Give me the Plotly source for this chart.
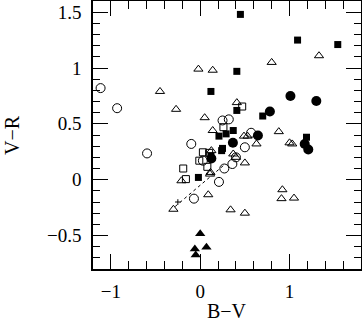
import plotly.graph_objects as go

# B-V, V-R colour values per object class
open_circ_bv = [-1.115, -0.93, -0.595, -0.10, -0.07, 0.21, 0.03, 0.27, 0.36, 0.50, 0.57, 0.25, 0.32, 0.40]
open_circ_vr = [0.82, 0.64, 0.235, 0.32, -0.17, -0.02, 0.17, 0.10, 0.14, 0.29, 0.42, 0.53, 0.54, 0.20]

fill_circ_bv = [1.01, 1.30, 0.78, 0.646, 1.17, 1.21, 0.366, 0.125]
fill_circ_vr = [0.75, 0.705, 0.61, 0.395, 0.32, 0.27, 0.33, 0.19]

fill_sq_bv = [0.45, 1.09, 1.54, 0.41, 0.12, 0.41, 0.70, 1.19, 0.37, 0.21, 0.29, 0.25, 0.24, -0.02, 0.12]
fill_sq_vr = [1.48, 1.25, 1.21, 0.97, 0.79, 0.62, 0.57, 0.38, 0.44, 0.39, 0.41, 0.28, 0.26, 0.02, 0.21]

open_sq_bv = [0.47, 0.03, -0.01, -0.19, -0.16, 0.08, 0.10, 0.26]
open_sq_vr = [0.655, 0.245, 0.17, 0.10, 0.005, 0.115, 0.24, 0.47]

open_tri_bv = [-0.45, -0.27, -0.02, 0.14, 0.80, 1.33, 0.41, 0.05, 0.14, 0.88, 0.49, 0.53, 0.63, 1.00,
               1.03, 0.37, 0.40, 0.50, 0.115, 0.125, -0.21, 0.09, -0.30, 0.34, 0.50, 0.92, 0.91, 1.05, 0.11]
open_tri_vr = [0.79, 0.63, 0.99, 0.98, 1.05, 1.11, 0.69, 0.555, 0.44, 0.43, 0.39, 0.39, 0.32, 0.33,
               0.32, 0.23, 0.20, 0.15, 0.065, 0.26, -0.01, -0.135, -0.265, -0.27, -0.30, -0.09, -0.17, -0.165, 0.05]

fill_tri_bv = [0.0, -0.06, -0.05, 0.07]
fill_tri_vr = [-0.485, -0.62, -0.675, -0.605]

# reddening vector
vec_bv = [-0.28, 0.28]
vec_vr = [-0.24, 0.14]
plus_bv = [-0.25]
plus_vr = [-0.20]

fig = go.Figure()

def add(x, y, sym, size, filled):
    fig.add_trace(go.Scatter(
        x=x, y=y, mode='markers',
        marker=dict(symbol=sym, size=size, color='black' if filled else 'rgba(0,0,0,0)',
                    line=dict(color='black', width=0 if filled else 1))))

fig.add_trace(go.Scatter(x=vec_bv, y=vec_vr, mode='lines',
                         line=dict(color='black', width=1, dash='dot')))
fig.add_trace(go.Scatter(x=plus_bv, y=plus_vr, mode='markers',
                         marker=dict(symbol='cross-thin', size=4, line=dict(color='black', width=1))))

add(open_tri_bv, open_tri_vr, 'triangle-up', 8, False)
add(fill_tri_bv, fill_tri_vr, 'triangle-up', 9, True)
add(open_sq_bv, open_sq_vr, 'square', 7, False)
add(open_circ_bv, open_circ_vr, 'circle', 9, False)
add(fill_sq_bv, fill_sq_vr, 'square', 7, True)
add(fill_circ_bv, fill_circ_vr, 'circle', 10, True)

serif = 'Liberation Serif'
axis_common = dict(
    showline=True, linecolor='black', linewidth=1.5, mirror='allticks',
    ticks='inside', ticklen=15, tickwidth=1, tickcolor='black',
    showgrid=False, zeroline=False, automargin=False,
    tickfont=dict(family=serif, size=19, color='black'),
)

fig.update_xaxes(range=[-1.2, 1.8], tick0=-1, dtick=1,
                 minor=dict(ticks='inside', ticklen=8, dtick=0.2, tick0=-1, tickcolor='black', showgrid=False),
                 ticklabelstandoff=4, **axis_common)
fig.update_yaxes(range=[-0.8, 1.6], tick0=0, dtick=0.5,
                 minor=dict(ticks='inside', ticklen=7, dtick=0.1, tick0=0, tickcolor='black', showgrid=False),
                 ticklabelstandoff=6, **axis_common)

# axis titles placed in pixels (plot box is 93..361 x 1..269)
fig.add_annotation(text='B\u2212V', xref='paper', x=0.5, yref='paper', y=-(311 - 269) / 268,
                   yanchor='middle', showarrow=False,
                   font=dict(family=serif, size=20, color='black'))
fig.add_annotation(text='V\u2212R', xref='paper', x=-(93 - 12) / 268, xanchor='center',
                   yref='paper', y=0.5, showarrow=False, textangle=-90,
                   font=dict(family=serif, size=20, color='black'))

fig.update_layout(width=362, height=324, margin=dict(l=93, r=1, t=1, b=55),
                  plot_bgcolor='white', paper_bgcolor='white', showlegend=False)

fig.write_html("out.html", config={'displayModeBar': False},
               post_script="document.body.style.margin='0';")
